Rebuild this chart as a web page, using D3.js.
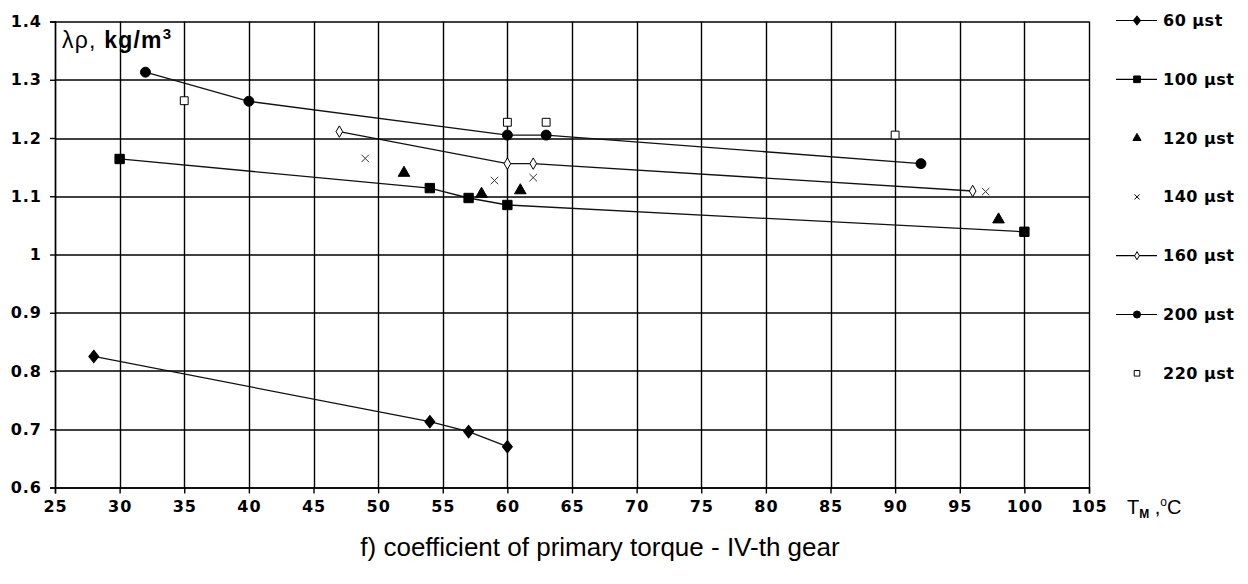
<!DOCTYPE html>
<html>
<head>
<meta charset="utf-8">
<script src="https://cdn.jsdelivr.net/npm/d3@7"></script>
<style>
  body { margin: 0; background: #fff; }
  svg { display: block; font-family: "Liberation Sans", Arial, sans-serif; }
</style>
</head>
<body>
<svg id="chart" width="1248" height="584"></svg>
<script>
// values: temperature T_M (°C) and λρ (kg/m3)
const temps60 = [28, 54, 57, 60];
const vals60 = [0.825, 0.713, 0.696, 0.670];
const temps100 = [30, 54, 57, 60, 100];
const vals100 = [1.164, 1.114, 1.097, 1.085, 1.039];
const temps120 = [52, 58, 61, 98];
const vals120 = [1.140, 1.104, 1.110, 1.060];
const temps140 = [49, 59, 62, 97];
const vals140 = [1.165, 1.127, 1.132, 1.108];
const temps160 = [47, 60, 62, 96];
const vals160 = [1.211, 1.156, 1.156, 1.109];
const temps200 = [32, 40, 60, 63, 92];
const vals200 = [1.313, 1.263, 1.205, 1.205, 1.156];
const temps220 = [35, 60, 63, 90];
const vals220 = [1.264, 1.227, 1.227, 1.205];

const seriesNames = ["60 µst", "100 µst", "120 µst", "140 µst", "160 µst", "200 µst", "220 µst"];
const xTicks = [25, 30, 35, 40, 45, 50, 55, 60, 65, 70, 75, 80, 85, 90, 95, 100, 105];
const yTicks = [0.6, 0.7, 0.8, 0.9, 1, 1.1, 1.2, 1.3, 1.4];

const zip = (xs, ys) => xs.map((t, i) => ({t: t, v: ys[i]}));

// style per series: symbol, filled, joined by a line; sy stretches the symbol vertically
const series = [
  {name: seriesNames[0], pts: zip(temps60, vals60), sym: d3.symbolDiamond2, size: 62, sy: 1.25, fill: true, line: true},
  {name: seriesNames[1], pts: zip(temps100, vals100), sym: d3.symbolSquare, size: 88, sy: 1, fill: true, line: true},
  {name: seriesNames[2], pts: zip(temps120, vals120), sym: d3.symbolTriangle, size: 58, sy: 1, fill: true, line: false},
  {name: seriesNames[3], pts: zip(temps140, vals140), sym: d3.symbolTimes, size: 38, sy: 1, fill: false, line: false},
  {name: seriesNames[4], pts: zip(temps160, vals160), sym: d3.symbolDiamond, size: 38, sy: 1, fill: false, line: true},
  {name: seriesNames[5], pts: zip(temps200, vals200), sym: d3.symbolCircle, size: 78, sy: 1, fill: true, line: true},
  {name: seriesNames[6], pts: zip(temps220, vals220), sym: d3.symbolSquare, size: 62, sy: 1, fill: false, line: false}
];

const margin = {top: 21.5, left: 55, right: 159, bottom: 96.5};
const width = 1248 - margin.left - margin.right;
const height = 584 - margin.top - margin.bottom;
const labelFont = "'DejaVu Sans', Verdana, sans-serif";

const svg = d3.select("#chart");
const g = svg.append("g").attr("transform", `translate(${margin.left},${margin.top})`);

const x = d3.scaleLinear().domain([25, 105]).range([0, width]);
const y = d3.scaleLinear().domain([0.6, 1.4]).range([height, 0]);

// grid
g.append("g").selectAll("line").data(xTicks).join("line")
  .attr("x1", d => Math.round(x(d)) + 0.5).attr("x2", d => Math.round(x(d)) + 0.5)
  .attr("y1", 0).attr("y2", height)
  .attr("stroke", "#000").attr("stroke-width", 1.4);
g.append("g").selectAll("line").data(yTicks).join("line")
  .attr("y1", d => Math.round(y(d)) + 0.5).attr("y2", d => Math.round(y(d)) + 0.5)
  .attr("x1", 0).attr("x2", width)
  .attr("stroke", "#000").attr("stroke-width", 1.4);

// axes
const xAxis = g.append("g")
  .attr("transform", `translate(0,${height})`)
  .call(d3.axisBottom(x).tickValues(xTicks).tickSize(6).tickPadding(7).tickFormat(d => String(d)));
const yAxis = g.append("g")
  .call(d3.axisLeft(y).tickValues(yTicks).tickSize(5).tickPadding(8).tickFormat(d => String(d)));
[xAxis, yAxis].forEach(a => {
  a.select(".domain").attr("stroke", "#000").attr("stroke-width", 1.4);
  a.selectAll(".tick line").attr("stroke", "#000").attr("stroke-width", 1.4);
  a.selectAll(".tick text")
    .attr("fill", "#000")
    .style("font-family", labelFont)
    .style("font-size", "16px")
    .style("font-weight", "bold")
    .style("letter-spacing", "1px");
});

// lines
const line = d3.line().x(d => x(d.t)).y(d => y(d.v));
g.append("g").selectAll("path")
  .data(series.filter(s => s.line))
  .join("path")
  .attr("d", s => line(s.pts))
  .attr("fill", "none")
  .attr("stroke", "#111")
  .attr("stroke-width", 1.3);

// markers
series.forEach(s => {
  const sym = d3.symbol().type(s.sym).size(s.size);
  g.append("g").selectAll("path")
    .data(s.pts)
    .join("path")
    .attr("transform", d => `translate(${x(d.t)},${y(d.v)}) scale(1,${s.sy})`)
    .attr("d", sym)
    .attr("fill", s.fill ? "#000" : "#fff")
    .attr("stroke", s.sym === d3.symbolTimes ? "#333" : "#000")
    .attr("stroke-width", 1);
});

// y title inside the plot
const yTitle = svg.append("text")
  .attr("x", 62).attr("y", 48)
  .style("font-size", "23px")
  .style("letter-spacing", "1.2px")
  .attr("fill", "#000");
yTitle.append("tspan").text("λρ,  ");
yTitle.append("tspan").style("font-weight", "bold").text("kg/m");
yTitle.append("tspan").attr("dy", -9).style("font-size", "15px").style("font-weight", "bold").text("3");

// x title
const xTitle = svg.append("text")
  .attr("x", 1127).attr("y", 514)
  .style("font-size", "20px")
  .attr("fill", "#000");
xTitle.append("tspan").text("T");
xTitle.append("tspan").attr("dy", 4).style("font-size", "12px").style("font-weight", "bold").text("M");
xTitle.append("tspan").attr("dy", -4).text(" ,");
xTitle.append("tspan").attr("dy", -8).style("font-size", "12px").text("o");
xTitle.append("tspan").attr("dy", 8).text("C");

// legend
const legend = svg.append("g").attr("transform", "translate(1116,20)");
const rows = legend.selectAll("g").data(series).join("g")
  .attr("transform", (d, i) => `translate(0,${i * 58.8})`);
rows.filter(s => s.line).append("line")
  .attr("x1", 0).attr("x2", 41).attr("y1", 0.5).attr("y2", 0.5)
  .attr("stroke", "#000").attr("stroke-width", 1.2);
rows.append("path")
  .attr("transform", s => `translate(21,0.5) scale(1,${s.sy})`)
  .attr("d", s => d3.symbol().type(s.sym).size(s.size * 0.5)())
  .attr("fill", s => s.fill ? "#000" : "#fff")
  .attr("stroke", "#000")
  .attr("stroke-width", 1);
rows.append("text")
  .attr("x", 47).attr("y", 6)
  .style("font-family", labelFont)
  .style("font-size", "16px")
  .style("font-weight", "bold")
  .style("letter-spacing", "0.5px")
  .attr("fill", "#000")
  .text(s => s.name);

// caption
svg.append("text")
  .attr("x", 600).attr("y", 556)
  .attr("text-anchor", "middle")
  .style("font-size", "26px")
  .attr("fill", "#000")
  .text("f) coefficient of primary torque - IV-th gear");
</script>
</body>
</html>
